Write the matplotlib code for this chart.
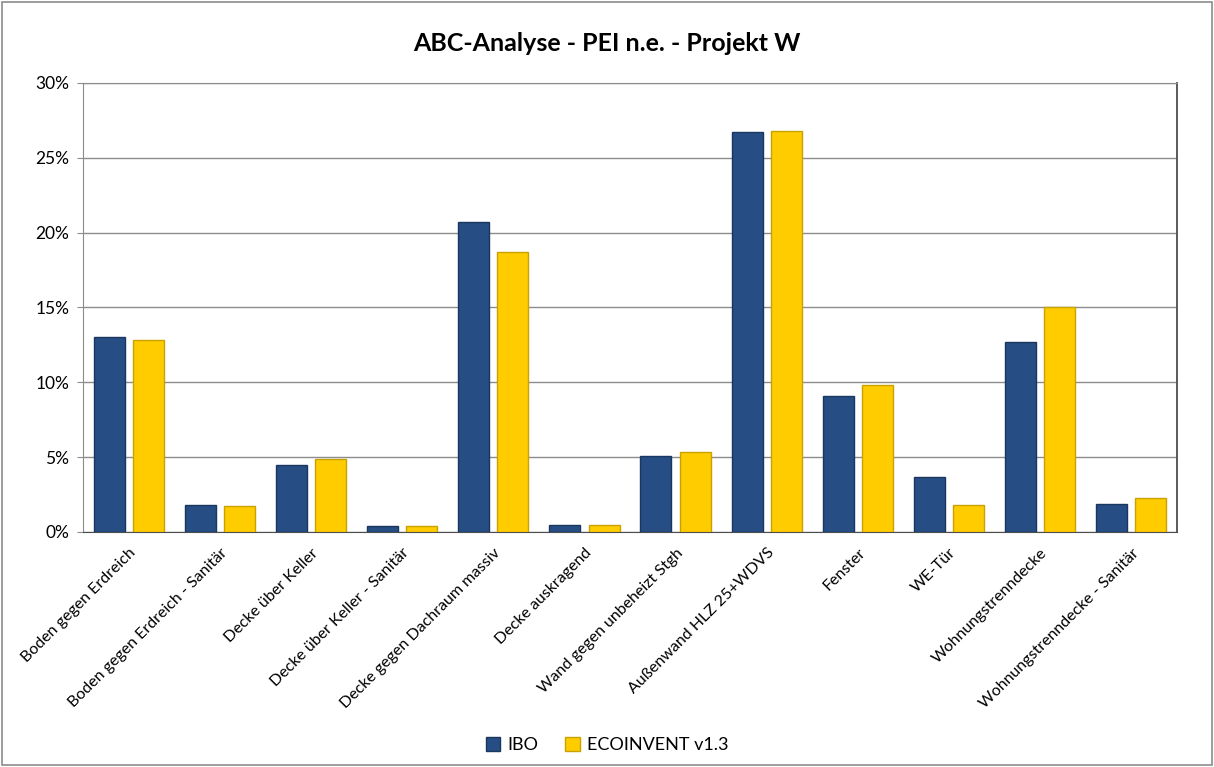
import numpy as np
import matplotlib.pyplot as plt
from matplotlib.patches import Rectangle
from matplotlib.ticker import FuncFormatter, MultipleLocator

plt.rcParams['font.family'] = ['Lato', 'DejaVu Sans']

kategorien = ['Boden gegen Erdreich', 'Boden gegen Erdreich - Sanitär', 'Decke über Keller',
              'Decke über Keller - Sanitär', 'Decke gegen Dachraum massiv', 'Decke auskragend',
              'Wand gegen unbeheizt Stgh', 'Außenwand HLZ 25+WDVS', 'Fenster', 'WE-Tür',
              'Wohnungstrenndecke', 'Wohnungstrenndecke - Sanitär']
ibo = [13.0, 1.8, 4.5, 0.4, 20.7, 0.45, 5.1, 26.7, 9.1, 3.7, 12.7, 1.9]
ecoinvent = [12.8, 1.75, 4.9, 0.4, 18.7, 0.5, 5.35, 26.8, 9.8, 1.8, 15.0, 2.25]

fig = plt.figure(figsize=(12.14, 7.67), dpi=100)
ax = fig.add_axes([0.0684, 0.3064, 0.9011, 0.5854])

x = np.arange(len(kategorien))
breite = 0.34
ax.bar(x - 0.215, ibo, breite, color='#264E84', edgecolor='#1A3760', linewidth=1.0,
       label='IBO', zorder=3)
ax.bar(x + 0.215, ecoinvent, breite, color='#FFCC00', edgecolor='#C9A100', linewidth=1.0,
       label='ECOINVENT v1.3', zorder=3)

ax.set_xlim(-0.5, len(kategorien) - 0.5)
ax.set_ylim(0, 30)
ax.yaxis.set_major_locator(MultipleLocator(5))
ax.yaxis.set_major_formatter(FuncFormatter(lambda v, p: f'{v:.0f}%'))
ax.grid(axis='y', color='#8C8C8C', linewidth=1.0, zorder=0)
ax.set_xticks(x)
ax.set_xticklabels(kategorien, rotation=45, ha='right', rotation_mode='anchor', fontsize=11.5)
ax.tick_params(axis='x', length=0, pad=10)
ax.tick_params(axis='y', labelsize=12.5, length=4, color='#8C8C8C', pad=6)
for s in ax.spines.values():
    s.set_color('#8C8C8C')
ax.spines['bottom'].set_color('#4D4D4D')
ax.spines['right'].set_color('#4D4D4D')
ax.spines['right'].set_linewidth(1.3)

fig.suptitle('ABC-Analyse - PEI n.e. - Projekt W', y=0.958, fontsize=18, fontweight='bold')
fig.legend(loc='lower center', bbox_to_anchor=(0.5, -0.003), ncol=2, frameon=False,
           fontsize=13, handlelength=0.8, handleheight=0.8, columnspacing=1.5,
           handletextpad=0.4)

fig.patches.append(Rectangle((0.002, 0.003), 0.996, 0.994, transform=fig.transFigure,
                             fill=False, edgecolor='#8C8C8C', linewidth=1.2))

fig.savefig('out.png', dpi=100)
